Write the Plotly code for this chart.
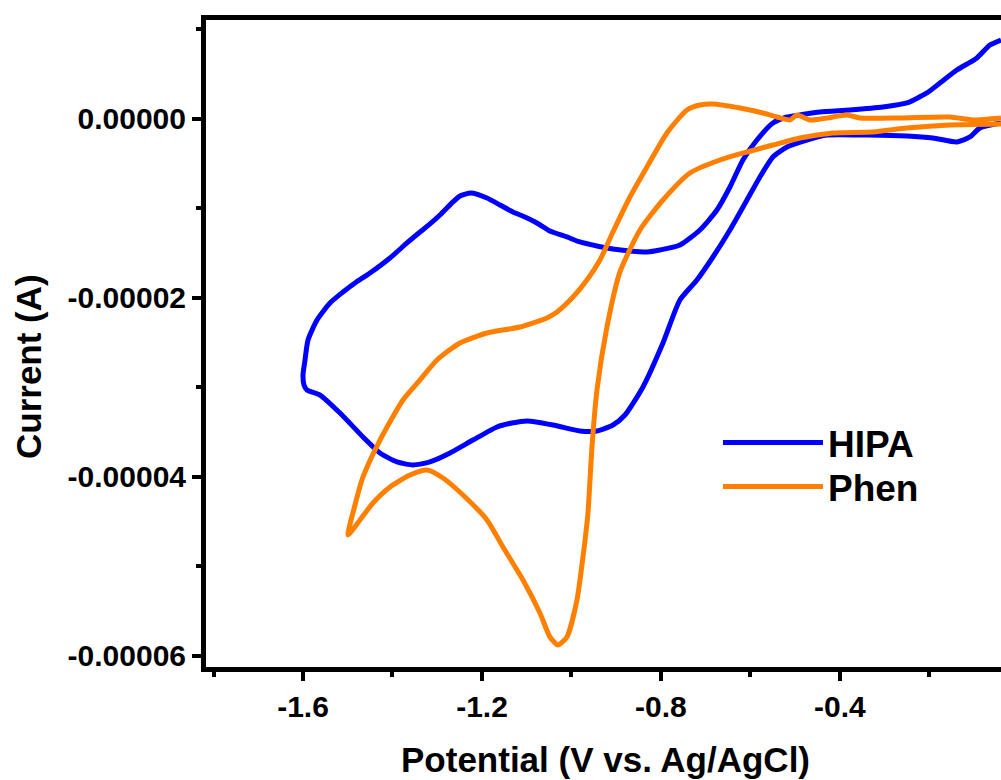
import plotly.graph_objects as go

# ---- data (potential in V vs Ag/AgCl, current in units of 1e-5 A) ----
hipa_potential = [
    -0.0400, -0.0648, -0.0939, -0.1386, -0.1766, -0.2056, -0.2503, -0.3039, -0.3777, -0.4447,
    -0.4894, -0.5184, -0.5497, -0.5855, -0.6168, -0.6458, -0.6749, -0.7129, -0.7576, -0.8023,
    -0.8313, -0.8693, -0.9073, -0.9430, -0.9810, -1.0101, -1.0481, -1.0771, -1.1039, -1.1307,
    -1.1598, -1.1888, -1.2246, -1.2492, -1.2648, -1.2939, -1.3162, -1.3385, -1.3676, -1.4056,
    -1.4503, -1.4838, -1.5106, -1.5397, -1.5687, -1.5888, -1.5955, -1.6000, -1.5978, -1.5911,
    -1.5620, -1.5173, -1.4659, -1.4279, -1.3899, -1.3542, -1.3162, -1.2715, -1.2201, -1.1665,
    -1.1330, -1.0994, -1.0413, -0.9810, -0.9430, -0.9073, -0.8804, -0.8402, -0.7955, -0.7576,
    -0.7196, -0.6838, -0.6458, -0.6078, -0.5788, -0.5497, -0.5184, -0.4737, -0.4291, -0.3397,
    -0.2503, -0.1922, -0.1386, -0.1095, -0.0872, -0.0400,
]
hipa_current_e5 = [
    0.883, 0.827, 0.682, 0.547, 0.402, 0.291, 0.179, 0.134, 0.101, 0.078,
    0.045, 0.022, -0.045, -0.235, -0.458, -0.760, -1.017, -1.240, -1.408, -1.464,
    -1.486, -1.475, -1.453, -1.419, -1.374, -1.318, -1.251, -1.162, -1.095, -1.039,
    -0.961, -0.883, -0.827, -0.860, -0.927, -1.073, -1.173, -1.263, -1.385, -1.553,
    -1.721, -1.832, -1.933, -2.056, -2.246, -2.469, -2.693, -2.860, -2.972, -3.028,
    -3.084, -3.285, -3.553, -3.732, -3.832, -3.866, -3.832, -3.732, -3.587, -3.441,
    -3.397, -3.374, -3.419, -3.486, -3.486, -3.419, -3.307, -2.994, -2.503, -2.022,
    -1.799, -1.542, -1.240, -0.905, -0.648, -0.425, -0.313, -0.235, -0.179, -0.179,
    -0.190, -0.212, -0.257, -0.201, -0.101, -0.045,
]

phen_potential = [
    -0.0400, -0.1028, -0.1542, -0.2659, -0.3553, -0.3844, -0.4291, -0.4670, -0.4961, -0.5117,
    -0.5408, -0.5721, -0.6235, -0.6838, -0.7129, -0.7419, -0.7866, -0.8313, -0.8693, -0.9073,
    -0.9363, -0.9654, -0.9966, -1.0324, -1.0548, -1.1151, -1.1888, -1.2492, -1.3006, -1.3385,
    -1.3765, -1.4279, -1.4659, -1.4838, -1.4994, -1.4726, -1.4436, -1.4056, -1.3609, -1.3229,
    -1.2872, -1.2425, -1.1888, -1.1531, -1.1084, -1.0704, -1.0481, -1.0302, -1.0101, -0.9877,
    -0.9743, -0.9631, -0.9542, -0.9430, -0.9207, -0.8916, -0.8469, -0.7955, -0.7352, -0.6682,
    -0.6078, -0.5497, -0.4894, -0.4156, -0.3263, -0.2503, -0.1542, -0.0400,
]
phen_current_e5 = [
    0.011, -0.011, 0.022, 0.011, 0.011, 0.045, 0.011, -0.011, 0.045, -0.011,
    0.022, 0.067, 0.123, 0.168, 0.156, 0.101, -0.156, -0.536, -0.872, -1.263,
    -1.575, -1.799, -1.989, -2.156, -2.223, -2.324, -2.391, -2.503, -2.693, -2.916,
    -3.140, -3.587, -4.000, -4.313, -4.648, -4.480, -4.291, -4.112, -3.978, -3.922,
    -4.011, -4.201, -4.480, -4.782, -5.151, -5.520, -5.788, -5.877, -5.788, -5.374,
    -4.894, -4.402, -3.665, -3.028, -2.324, -1.709, -1.240, -0.905, -0.603, -0.458,
    -0.369, -0.291, -0.212, -0.156, -0.145, -0.101, -0.067, -0.056,
]

series_names = ["HIPA", "Phen"]
series_colors = ["#0000FF", "#FF8000"]

x_tick_vals = [-1.6, -1.2, -0.8, -0.4]
x_tick_text = ["-1.6", "-1.2", "-0.8", "-0.4"]
x_minor_vals = [-1.8, -1.4, -1.0, -0.6, -0.2]
y_tick_vals = [0.0, -2e-5, -4e-5, -6e-5]
y_tick_text = ["0.00000", "-0.00002", "-0.00004", "-0.00006"]
y_minor_vals = [1e-5, -1e-5, -3e-5, -5e-5]

x_title = "Potential (V vs. Ag/AgCl)"
y_title = "Current (A)"

hipa_current = [v * 1e-5 for v in hipa_current_e5]
phen_current = [v * 1e-5 for v in phen_current_e5]

FONT = "Liberation Sans, Arial, sans-serif"

fig = go.Figure()
for name, xs, ys, col, leg in [
    (series_names[0], hipa_potential, hipa_current, series_colors[0], "legend"),
    (series_names[1], phen_potential, phen_current, series_colors[1], "legend2"),
]:
    fig.add_trace(go.Scatter(
        x=xs, y=ys, mode="lines", name=name, legend=leg,
        line=dict(color=col, width=5, shape="spline", smoothing=0.6),
    ))

axis_common = dict(
    showgrid=False, zeroline=False, showline=True, linecolor="black", linewidth=5,
    ticks="outside", tickwidth=4, tickcolor="black", ticklen=9,
    tickfont=dict(family=FONT, size=30, color="black", weight="bold"),
)

fig.update_xaxes(
    range=[-1.8168, -0.04], tickmode="array", tickvals=x_tick_vals, ticktext=x_tick_text,
    mirror=True,
    minor=dict(tickmode="array", tickvals=x_minor_vals, ticks="outside", ticklen=5,
               tickwidth=4, tickcolor="black"),
    **axis_common,
)
fig.update_yaxes(
    range=[-6.123e-5, 1.106e-5], tickmode="array", tickvals=y_tick_vals, ticktext=y_tick_text,
    minor=dict(tickmode="array", tickvals=y_minor_vals, ticks="outside", ticklen=5,
               tickwidth=4, tickcolor="black"),
    **axis_common,
)

legend_style = dict(
    xanchor="left", yanchor="middle",
    font=dict(family=FONT, size=37, color="black", weight="bold"),
    bgcolor="rgba(0,0,0,0)", itemwidth=100,
)

fig.update_layout(
    width=1001, height=780,
    margin=dict(l=206, r=0, t=20, b=113),
    paper_bgcolor="white", plot_bgcolor="white",
    showlegend=True,
    legend=dict(x=0.644, y=0.3462, **legend_style),
    legend2=dict(x=0.644, y=0.2782, **legend_style),
    annotations=[
        dict(text=x_title, xref="paper", yref="paper", x=0.503, y=-0.1437,
             showarrow=False, xanchor="center", yanchor="middle",
             font=dict(family=FONT, size=35, color="black", weight="bold")),
        dict(text=y_title, xref="paper", yref="paper", x=-0.2226, y=0.4637,
             showarrow=False, xanchor="center", yanchor="middle", textangle=-90,
             font=dict(family=FONT, size=35, color="black", weight="bold")),
    ],
)

fig.write_html(
    "out.html",
    config={"displayModeBar": False},
    post_script=(
        "document.documentElement.style.overflow='hidden';"
        "document.body.style.margin='0';"
        "document.body.style.overflow='hidden';"
    ),
)
